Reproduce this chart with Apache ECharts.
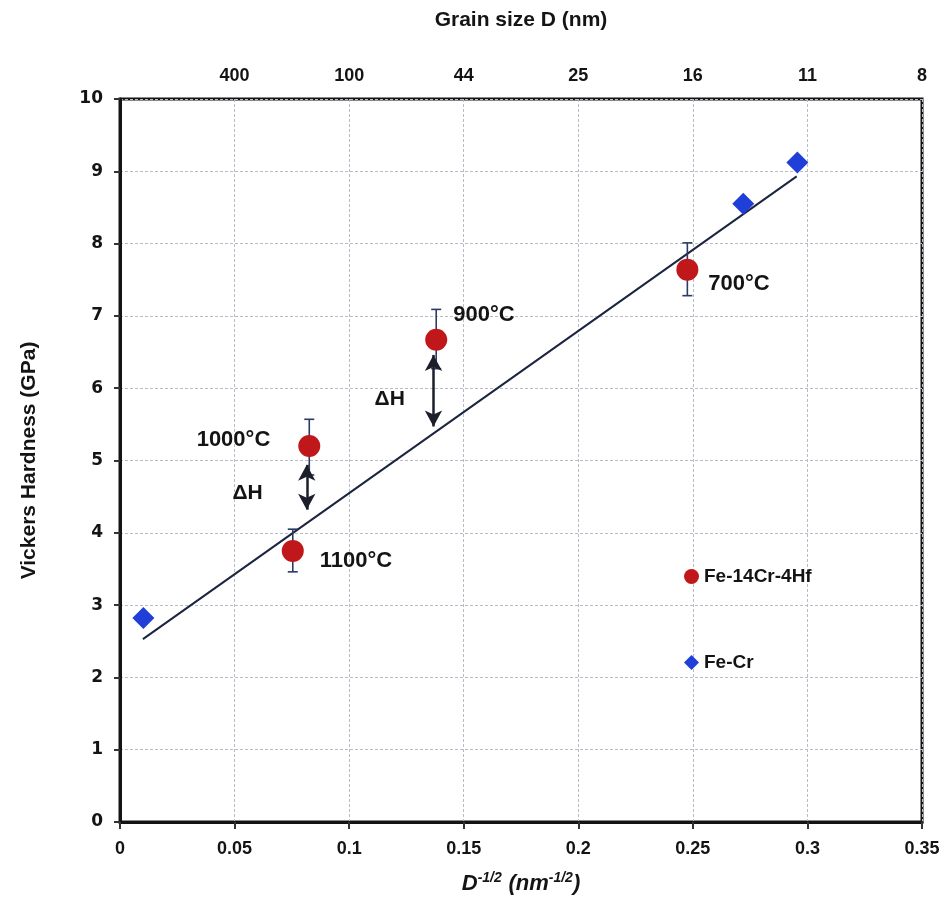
<!DOCTYPE html>
<html>
<head>
<meta charset="utf-8">
<script src="https://cdn.jsdelivr.net/npm/echarts@6/dist/echarts.min.js"></script>
<style>
  html, body { margin: 0; padding: 0; background: #fff; }
  #chart { width: 951px; height: 918px; }
</style>
</head>
<body>
<div id="chart"></div>
<script>
// Hall-Petch plot: hardness vs D^-1/2

// Fe-Cr reference points
const feCrX = [0.0102, 0.272, 0.2956];
const feCrY = [2.82, 8.55, 9.12];

// Fe-14Cr-4Hf, annealed at different temperatures
const hfX = [0.0754, 0.0826, 0.138, 0.2476];
const hfY = [3.75, 5.20, 6.67, 7.64];
const hfErrLow = [3.46, 4.80, 6.27, 7.28];
const hfErrHigh = [4.05, 5.57, 7.09, 8.01];
const hfTemps = ['1100°C', '1000°C', '900°C', '700°C'];

// linear fit line ends
const fitX = [0.010, 0.2953];
const fitY = [2.53, 8.93];

// ΔH arrows (x, from, to) and their text positions
const dhX = [0.0815, 0.1368];
const dhTop = [4.94, 6.46];
const dhBottom = [4.32, 5.47];
const dhLabelX = [0.0557, 0.1177];
const dhLabelY = [4.53, 5.84];

// axis ticks
const bottomTicks = [0, 0.05, 0.1, 0.15, 0.2, 0.25, 0.3, 0.35];
const topTickLabels = ['', '400', '100', '44', '25', '16', '11', '8'];

const boldFont = '"Liberation Sans", Arial, sans-serif';
const ink = '#141414';

let chartDom = document.getElementById('chart');
let chart = echarts.init(chartDom);

// label placement per temperature
const labelPos = [
    { position: 'right', distance: 16, offset: [0, 10] },
    { position: 'left', distance: 28, offset: [0, -6] },
    { position: 'right', distance: 6, offset: [0, -25] },
    { position: 'right', distance: 10, offset: [0, 14] }
];

const hfData = hfX.map((x, i) => ({
    value: [x, hfY[i]],
    label: Object.assign({ show: true, formatter: hfTemps[i] }, labelPos[i])
}));

const errData = hfX.map((x, i) => [x, hfErrLow[i], hfErrHigh[i]]);

function renderErr(params, api) {
    let x = api.value(0);
    let lo = api.coord([x, api.value(1)]);
    let hi = api.coord([x, api.value(2)]);
    let w = 5;
    let st = { stroke: '#2b3a66', lineWidth: 1.6 };
    return {
        type: 'group',
        children: [
            { type: 'line', shape: { x1: lo[0], y1: lo[1], x2: hi[0], y2: hi[1] }, style: st },
            { type: 'line', shape: { x1: lo[0] - w, y1: lo[1], x2: lo[0] + w, y2: lo[1] }, style: st },
            { type: 'line', shape: { x1: hi[0] - w, y1: hi[1], x2: hi[0] + w, y2: hi[1] }, style: st }
        ]
    };
}

let option = {
    backgroundColor: '#fff',
    animation: false,
    grid: {
        left: 120, right: 29, top: 99, bottom: 96,
        show: true, borderColor: ink, borderWidth: 3
    },
    legend: {
        orient: 'vertical',
        left: 679, top: 562,
        itemWidth: 15, itemHeight: 15,
        itemGap: 67,
        data: ['Fe-14Cr-4Hf', 'Fe-Cr'],
        textStyle: { fontFamily: boldFont, fontWeight: 'bold', fontSize: 19, color: ink }
    },
    xAxis: [
        {
            type: 'value', position: 'bottom',
            min: 0, max: 0.35, interval: 0.05,
            axisLine: { show: true, lineStyle: { color: ink, width: 3 } },
            axisTick: { show: true, length: 7, lineStyle: { color: '#333', width: 2 } },
            axisLabel: {
                margin: 18,
                fontFamily: boldFont, fontWeight: 'bold', fontSize: 18, color: ink,
                formatter: v => String(bottomTicks[Math.round(v / 0.05)])
            },
            splitLine: { show: true, lineStyle: { color: '#b9bcc8', type: [3, 2], width: 1 } },
            name: '{i|D}{s|-1/2}  {i|(nm}{s|-1/2}{i|)}',
            nameLocation: 'middle', nameGap: 47,
            nameTextStyle: {
                rich: {
                    i: { fontFamily: boldFont, fontWeight: 'bold', fontStyle: 'italic', fontSize: 22, color: ink, verticalAlign: 'bottom', lineHeight: 26 },
                    s: { fontFamily: boldFont, fontWeight: 'bold', fontStyle: 'italic', fontSize: 14, color: ink, verticalAlign: 'bottom', lineHeight: 26, padding: [0, 0, 10, 0] }
                }
            }
        },
        {
            type: 'value', position: 'top',
            min: 0, max: 0.35, interval: 0.05,
            axisLine: { show: false },
            axisTick: { show: false },
            splitLine: { show: false },
            axisLabel: {
                margin: 14,
                fontFamily: boldFont, fontWeight: 'bold', fontSize: 18, color: ink,
                formatter: v => topTickLabels[Math.round(v / 0.05)]
            },
            name: 'Grain size D (nm)',
            nameLocation: 'middle', nameGap: 68,
            nameTextStyle: { fontFamily: boldFont, fontWeight: 'bold', fontSize: 21, color: ink }
        }
    ],
    yAxis: {
        type: 'value',
        min: 0, max: 10, interval: 1,
        axisLine: { show: true, lineStyle: { color: ink, width: 3 } },
        axisTick: { show: true, length: 6, lineStyle: { color: '#333', width: 2 } },
        axisLabel: {
            margin: 17,
            fontFamily: '"DejaVu Sans", sans-serif', fontWeight: 'bold', fontSize: 17, color: ink
        },
        splitLine: { show: true, lineStyle: { color: '#b9bcc8', type: [3, 2], width: 1 } },
        name: 'Vickers Hardness (GPa)',
        nameLocation: 'middle', nameGap: 80, nameRotate: 90,
        nameTextStyle: { fontFamily: boldFont, fontWeight: 'bold', fontSize: 21, color: ink }
    },
    series: [
        {
            name: 'fit',
            type: 'line',
            data: fitX.map((x, i) => [x, fitY[i]]),
            symbol: 'none',
            lineStyle: { color: '#1c2540', width: 2 },
            z: 2,
            markLine: {
                silent: true,
                symbol: ['arrow', 'arrow'],
                symbolSize: [13, 16],
                label: { show: false },
                lineStyle: { color: '#1c1f2a', width: 2.5, type: 'solid' },
                data: dhX.map((x, i) => [
                    { coord: [x, dhTop[i]] },
                    { coord: [x, dhBottom[i]] }
                ])
            }
        },
        {
            name: 'err',
            type: 'custom',
            renderItem: renderErr,
            data: errData,
            encode: { x: 0, y: [1, 2] },
            z: 3
        },
        {
            name: 'Fe-14Cr-4Hf',
            type: 'scatter',
            data: hfData,
            symbol: 'circle',
            symbolSize: 22,
            itemStyle: { color: '#c0181a', opacity: 1 },
            label: {
                fontFamily: boldFont, fontWeight: 'bold', fontSize: 22, color: ink
            },
            z: 5
        },
        {
            name: 'Fe-Cr',
            type: 'scatter',
            data: feCrX.map((x, i) => [x, feCrY[i]]),
            symbol: 'diamond',
            symbolSize: 22,
            itemStyle: { color: '#1f3fd8', opacity: 1 },
            z: 5
        },
        {
            name: 'dH',
            type: 'scatter',
            data: dhLabelX.map((x, i) => [x, dhLabelY[i]]),
            symbolSize: 1,
            silent: true,
            itemStyle: { color: 'rgba(0,0,0,0)' },
            label: {
                show: true, position: 'top', distance: -10, formatter: 'ΔH',
                fontFamily: boldFont, fontWeight: 'bold', fontSize: 21, color: ink,
                opacity: 1, textBorderWidth: 0
            },
            z: 5
        }
    ]
};

chart.setOption(option);
window.onresize = function() {
    chart.resize();
};
</script>
</body>
</html>
